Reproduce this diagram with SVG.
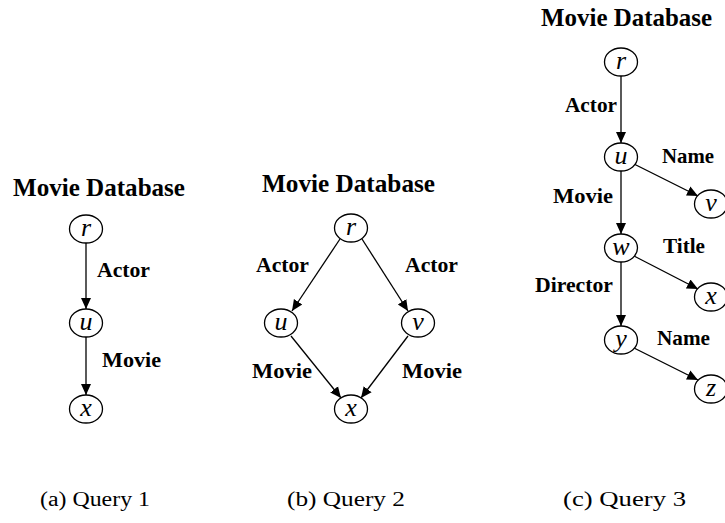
<svg xmlns="http://www.w3.org/2000/svg" width="725" height="523" viewBox="0 0 725 523">
  <defs>
    <marker id="arrow" markerUnits="userSpaceOnUse" markerWidth="12" markerHeight="12" viewBox="0 0 12 12" refX="11" refY="6" orient="auto">
      <path d="M0,1 L11,6 L0,11 Z" fill="#000"/>
    </marker>
    <style>
      .title { font-family: "Liberation Serif", "Times New Roman", serif; font-weight: bold; font-size: 25px; fill: #000; }
      .lbl { font-family: "Liberation Serif", "Times New Roman", serif; font-weight: bold; font-size: 21px; fill: #000; }
      .var { font-family: "Liberation Serif", "Times New Roman", serif; font-style: italic; font-size: 26px; fill: #000; text-anchor: middle; }
      .cap { font-family: "Liberation Serif", "Times New Roman", serif; font-size: 20px; fill: #000; }
      .node ellipse { fill: #fff; stroke: #000; stroke-width: 1.3; }
      .edge { stroke: #000; stroke-width: 1.3; fill: none; marker-end: url(#arrow); }
    </style>
  </defs>
  <rect width="725" height="523" fill="#fff"/>

  <!-- Query 1 -->
  <g id="q1">
    <text class="title" x="13" y="196" textLength="172" lengthAdjust="spacingAndGlyphs">Movie Database</text>
    <g id="q1-edges">
      <line class="edge" x1="86" y1="243" x2="86" y2="309"/>
      <line class="edge" x1="86" y1="337" x2="86" y2="395"/>
    </g>
    <g id="q1-r" class="node"><ellipse cx="86" cy="229" rx="16.5" ry="14"/><text class="var" x="86" y="236">r</text></g>
    <g id="q1-u" class="node"><ellipse cx="86" cy="323" rx="16.5" ry="14"/><text class="var" x="86" y="330">u</text></g>
    <g id="q1-x" class="node"><ellipse cx="86" cy="409" rx="16.5" ry="14"/><text class="var" x="86" y="416">x</text></g>
    <text class="lbl" x="97" y="277" textLength="53" lengthAdjust="spacingAndGlyphs">Actor</text>
    <text class="lbl" x="102" y="367" textLength="59" lengthAdjust="spacingAndGlyphs">Movie</text>
  </g>

  <!-- Query 2 -->
  <g id="q2">
    <text class="title" x="262" y="192" textLength="173" lengthAdjust="spacingAndGlyphs">Movie Database</text>
    <g id="q2-edges">
      <line class="edge" x1="340" y1="239" x2="292" y2="311"/>
      <line class="edge" x1="362" y1="239" x2="408" y2="311"/>
      <line class="edge" x1="291" y1="336" x2="341" y2="398"/>
      <line class="edge" x1="408" y1="336" x2="361" y2="398"/>
    </g>
    <g id="q2-r" class="node"><ellipse cx="351" cy="228" rx="16.5" ry="14"/><text class="var" x="351" y="235">r</text></g>
    <g id="q2-u" class="node"><ellipse cx="281" cy="323" rx="16.5" ry="14"/><text class="var" x="281" y="330">u</text></g>
    <g id="q2-v" class="node"><ellipse cx="418" cy="323" rx="16.5" ry="14"/><text class="var" x="418" y="330">v</text></g>
    <g id="q2-x" class="node"><ellipse cx="351" cy="409" rx="16.5" ry="14"/><text class="var" x="351" y="416">x</text></g>
    <text class="lbl" x="256" y="272" textLength="53" lengthAdjust="spacingAndGlyphs">Actor</text>
    <text class="lbl" x="405" y="272" textLength="53" lengthAdjust="spacingAndGlyphs">Actor</text>
    <text class="lbl" x="252" y="378" textLength="60" lengthAdjust="spacingAndGlyphs">Movie</text>
    <text class="lbl" x="402" y="378" textLength="60" lengthAdjust="spacingAndGlyphs">Movie</text>
  </g>

  <!-- Query 3 -->
  <g id="q3">
    <text class="title" x="541" y="26" textLength="171" lengthAdjust="spacingAndGlyphs">Movie Database</text>
    <g id="q3-edges">
      <line class="edge" x1="621" y1="76" x2="621" y2="143"/>
      <line class="edge" x1="621" y1="171" x2="621" y2="234"/>
      <line class="edge" x1="621" y1="262" x2="621" y2="326"/>
      <line class="edge" x1="634" y1="164" x2="698" y2="196"/>
      <line class="edge" x1="634" y1="256" x2="698" y2="289"/>
      <line class="edge" x1="634" y1="348" x2="698" y2="380"/>
    </g>
    <g id="q3-r" class="node"><ellipse cx="621" cy="62" rx="16.5" ry="14"/><text class="var" x="621" y="69">r</text></g>
    <g id="q3-u" class="node"><ellipse cx="621" cy="157" rx="16.5" ry="14"/><text class="var" x="621" y="164">u</text></g>
    <g id="q3-v" class="node"><ellipse cx="711" cy="204" rx="16.5" ry="14"/><text class="var" x="711" y="211">v</text></g>
    <g id="q3-w" class="node"><ellipse cx="621" cy="248" rx="16.5" ry="14"/><text class="var" x="621" y="255">w</text></g>
    <g id="q3-x" class="node"><ellipse cx="711" cy="297" rx="16.5" ry="14"/><text class="var" x="711" y="304">x</text></g>
    <g id="q3-y" class="node"><ellipse cx="621" cy="340" rx="16.5" ry="14"/><text class="var" x="621" y="347">y</text></g>
    <g id="q3-z" class="node"><ellipse cx="711" cy="389" rx="16.5" ry="14"/><text class="var" x="711" y="396">z</text></g>
    <text class="lbl" x="565" y="112" textLength="52" lengthAdjust="spacingAndGlyphs">Actor</text>
    <text class="lbl" x="662" y="163" textLength="52" lengthAdjust="spacingAndGlyphs">Name</text>
    <text class="lbl" x="553" y="203" textLength="60" lengthAdjust="spacingAndGlyphs">Movie</text>
    <text class="lbl" x="663" y="253" textLength="42" lengthAdjust="spacingAndGlyphs">Title</text>
    <text class="lbl" x="535" y="292" textLength="78" lengthAdjust="spacingAndGlyphs">Director</text>
    <text class="lbl" x="657" y="345" textLength="53" lengthAdjust="spacingAndGlyphs">Name</text>
  </g>

  <!-- Captions -->
  <text class="cap" x="40" y="506" textLength="110" lengthAdjust="spacingAndGlyphs">(a) Query 1</text>
  <text class="cap" x="287" y="506" textLength="118" lengthAdjust="spacingAndGlyphs">(b) Query 2</text>
  <text class="cap" x="563" y="506" textLength="123" lengthAdjust="spacingAndGlyphs">(c) Query 3</text>
</svg>
